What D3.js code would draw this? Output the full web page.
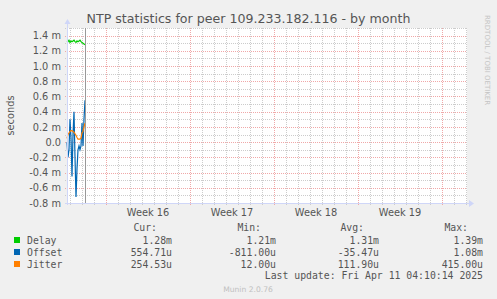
<!DOCTYPE html>
<html>
<head>
<meta charset="utf-8">
<title>NTP statistics</title>
<script src="https://d3js.org/d3.v7.min.js"></script>
<style>
  body { margin: 0; background: #f0f0f0; }
  text { fill: #555; }
</style>
</head>
<body>
<div id="chart"></div>
<script>
// values, one point every 2 hours (milliseconds)
var delay = [1.33, 1.32, 1.34, 1.31, 1.33, 1.32, 1.33, 1.34, 1.32, 1.31, 1.33, 1.32, 1.33, 1.34, 1.32, 1.31, 1.30, 1.29, 1.28];
var offset = [0.0, -0.2, -0.1, 0.3, 0.05, -0.45, 0.1, 0.4, -0.2, -0.72, -0.35, -0.1, -0.05, -0.1, -0.05, 0.25, -0.05, 0.3, 0.55];
var jitter = [0.05, 0.10, 0.12, 0.14, 0.15, 0.15, 0.14, 0.13, 0.11, 0.09, 0.06, 0.04, 0.04, 0.04, 0.05, 0.12, 0.14, 0.20, 0.25];

var yTicks = [-0.8, -0.6, -0.4, -0.2, 0, 0.2, 0.4, 0.6, 0.8, 1.0, 1.2, 1.4];

var seriesNames = ["Delay", "Offset", "Jitter"];
var seriesColors = ["#00cc00", "#0066b3", "#ff8000"];
var legendCur = ["1.28m", "554.71u", "254.53u"];
var legendMin = ["1.21m", "-811.00u", "12.00u"];
var legendAvg = ["1.31m", "-35.47u", "111.90u"];
var legendMax = ["1.39m", "1.08m", "415.00u"];

var W = 497, H = 299;
var pLeft = 67, pRight = 467, pTop = 28, pBottom = 203;

var start = new Date(2025, 3, 10, 18, 0, 0);
var end = new Date(start.getTime() + 400 * 2 * 3600 * 1000);
var step = 2 * 3600 * 1000;

var svg = d3.select("#chart").append("svg")
  .attr("width", W).attr("height", H);

svg.append("rect").attr("width", W).attr("height", H).attr("fill", "#f0f0f0");

var x = d3.scaleTime().domain([start, end]).range([pLeft, pRight]);
var y = d3.scaleLinear().domain([-0.8, 1.5]).range([pBottom, pTop]);

svg.append("rect")
  .attr("x", pLeft).attr("y", pTop)
  .attr("width", pRight - pLeft).attr("height", pBottom - pTop)
  .attr("fill", "#fff");

// minor grid
var days = d3.timeDay.range(start, end);
svg.append("g").selectAll("line").data(days).join("line")
  .attr("x1", d => Math.round(x(d)) + 0.5).attr("x2", d => Math.round(x(d)) + 0.5)
  .attr("y1", pTop).attr("y2", pBottom + 2)
  .attr("stroke", "#cccccc").attr("stroke-dasharray", "1,1");

var minorY = d3.range(-7, 16).map(d => d / 10);
svg.append("g").selectAll("line").data(minorY).join("line")
  .attr("x1", pLeft - 2).attr("x2", pRight)
  .attr("y1", d => Math.round(y(d)) + 0.5).attr("y2", d => Math.round(y(d)) + 0.5)
  .attr("stroke", "#cccccc").attr("stroke-dasharray", "1,1");

// major grid
var weeks = d3.timeMonday.range(start, end);
svg.append("g").selectAll("line").data(weeks).join("line")
  .attr("x1", d => Math.round(x(d)) + 0.5).attr("x2", d => Math.round(x(d)) + 0.5)
  .attr("y1", pTop).attr("y2", pBottom + 2)
  .attr("stroke", "#f0a8a8").attr("stroke-dasharray", "1,1");

svg.append("g").selectAll("line").data(yTicks.slice(1)).join("line")
  .attr("x1", pLeft - 2).attr("x2", pRight)
  .attr("y1", d => Math.round(y(d)) + 0.5).attr("y2", d => Math.round(y(d)) + 0.5)
  .attr("stroke", "#f0a8a8").attr("stroke-dasharray", "1,1");

// data lines
var line = d3.line()
  .x((d, i) => x(new Date(start.getTime() + i * step)))
  .y(d => y(d));

[delay, offset, jitter].forEach(function (s, k) {
  svg.append("path").datum(s)
    .attr("d", line)
    .attr("fill", "none")
    .attr("stroke", seriesColors[k])
    .attr("stroke-width", 1.2);
});

// vertical rule at last update
var last = new Date(start.getTime() + (delay.length - 1) * step);
svg.append("line")
  .attr("x1", x(last) + 0.5).attr("x2", x(last) + 0.5)
  .attr("y1", pTop).attr("y2", pBottom)
  .attr("stroke", "#999").attr("stroke-width", 1);

// axes
svg.append("line").attr("x1", pLeft + 0.5).attr("x2", pLeft + 0.5)
  .attr("y1", pBottom + 2).attr("y2", 23).attr("stroke", "#cfd6f8");
svg.append("path").attr("d", "M64.5,24 L67.5,19 L70.5,24 Z").attr("fill", "#cfd6f8");
svg.append("line").attr("x1", pLeft - 2).attr("x2", 470)
  .attr("y1", pBottom + 0.5).attr("y2", pBottom + 0.5).attr("stroke", "#cfd6f8");
svg.append("path").attr("d", "M469,200 L474,203.5 L469,207 Z").attr("fill", "#cfd6f8");

var yAxis = d3.axisLeft(y).tickValues(yTicks).tickSize(0).tickPadding(6)
  .tickFormat(d => d === 0 ? "0.0" : d.toFixed(1) + " m");
var ya = svg.append("g").attr("transform", "translate(" + pLeft + ",0)").call(yAxis);
ya.select(".domain").remove();
ya.selectAll("text").attr("font-family", "DejaVu Sans").attr("font-size", 9.8).attr("fill", "#555");

// week labels
var weekLabels = weeks.map(d => new Date(d.getTime() + 3.5 * 86400000))
  .filter(d => x(d) < pRight);
svg.append("g").selectAll("text").data(weekLabels).join("text")
  .attr("x", d => x(d)).attr("y", 216)
  .attr("text-anchor", "middle")
  .attr("font-family", "DejaVu Sans").attr("font-size", 9.8)
  .text(d => "Week " + d3.timeFormat("%V")(new Date(d.getTime() - 3 * 86400000)));

// titles
svg.append("text").attr("x", 248.5).attr("y", 23).attr("text-anchor", "middle")
  .attr("font-family", "DejaVu Sans").attr("font-size", 12.6)
  .text("NTP statistics for peer 109.233.182.116 - by month");

svg.append("text").attr("transform", "translate(14,115.5) rotate(-90)")
  .attr("text-anchor", "middle")
  .attr("font-family", "DejaVu Sans").attr("font-size", 9.8)
  .text("seconds");

svg.append("text").attr("transform", "translate(485,15) rotate(90)")
  .attr("font-family", "DejaVu Sans").attr("font-size", 7)
  .style("fill", "#c4c4c4")
  .text("RRDTOOL / TOBI OETIKER");

// legend
var mono = "DejaVu Sans Mono";
var colEnds = [172, 276, 379, 483];
var heads = ["Cur:", "Min:", "Avg:", "Max:"];
heads.forEach(function (h, j) {
  svg.append("text").attr("x", colEnds[j] - 15).attr("y", 231)
    .attr("text-anchor", "end").attr("font-family", mono).attr("font-size", 9.8).text(h);
});

var cols = [legendCur, legendMin, legendAvg, legendMax];
seriesNames.forEach(function (name, i) {
  var ry = 237 + i * 12;
  svg.append("rect").attr("x", 14).attr("y", ry).attr("width", 6).attr("height", 6)
    .attr("fill", seriesColors[i]);
  svg.append("text").attr("x", 27).attr("y", ry + 6.5)
    .attr("font-family", mono).attr("font-size", 9.8).text(name);
  cols.forEach(function (c, j) {
    svg.append("text").attr("x", colEnds[j]).attr("y", ry + 6.5)
      .attr("text-anchor", "end").attr("font-family", mono).attr("font-size", 9.8)
      .text(c[i]);
  });
});

svg.append("text").attr("x", 483).attr("y", 279).attr("text-anchor", "end")
  .attr("font-family", mono).attr("font-size", 9.8)
  .text("Last update: Fri Apr 11 04:10:14 2025");

svg.append("text").attr("x", 248).attr("y", 292).attr("text-anchor", "middle")
  .attr("font-family", "DejaVu Sans").attr("font-size", 7.6)
  .style("fill", "#c0c0c0")
  .text("Munin 2.0.76");
</script>
</body>
</html>
